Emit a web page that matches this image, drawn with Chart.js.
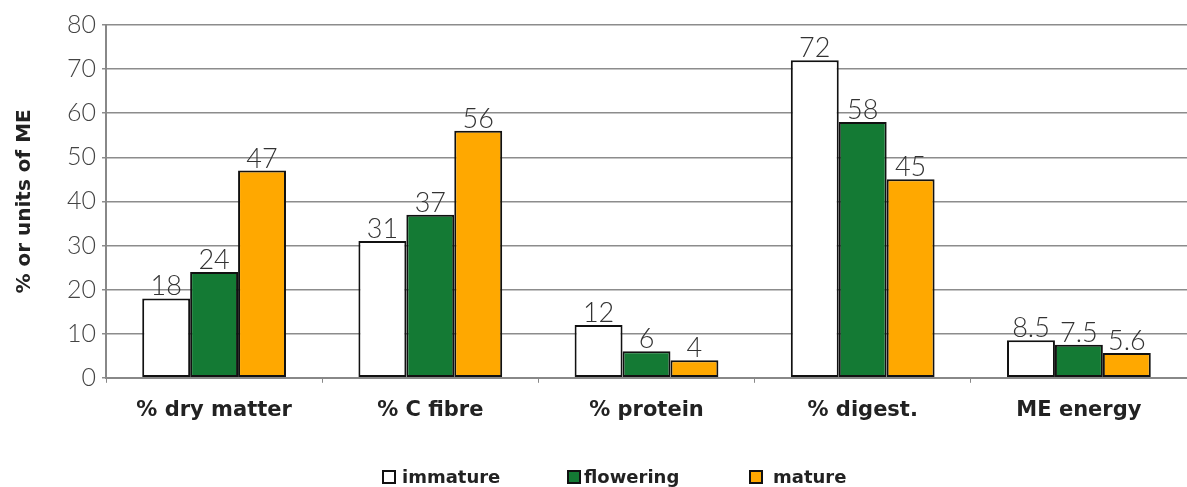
<!DOCTYPE html>
<html>
<head>
<meta charset="utf-8">
<script src="https://cdn.jsdelivr.net/npm/chart.js@4"></script>
<style>
  html, body { margin: 0; padding: 0; background: #fff; }
  #wrap { width: 1187px; height: 487px; }
</style>
</head>
<body>
<div id="wrap"><canvas id="forageChart" width="1187" height="487"></canvas></div>
<script>
// Forage quality by growth stage
const categories = ["% dry matter", "% C fibre", "% protein", "% digest.", "ME energy"];
const immature = [18, 31, 12, 72, 8.5];
const flowering = [24, 37, 6, 58, 7.5];
const mature = [47, 56, 4, 45, 5.6];
const yTicks = [0, 10, 20, 30, 40, 50, 60, 70, 80];

const NUM_FONT = "Lato, 'Open Sans', sans-serif";
const TXT_FONT = "'DejaVu Sans', 'Open Sans', sans-serif";

// draws the value above each bar
const valueLabels = {
  id: "valueLabels",
  afterDatasetsDraw(chart) {
    const ctx = chart.ctx;
    ctx.save();
    ctx.font = "300 27px " + NUM_FONT;
    ctx.fillStyle = "#333";
    ctx.textAlign = "center";
    ctx.textBaseline = "alphabetic";
    chart.data.datasets.forEach((ds, i) => {
      const meta = chart.getDatasetMeta(i);
      meta.data.forEach((bar, j) => {
        ctx.fillText(String(ds.data[j]), bar.x, bar.y - 3);
      });
    });
    ctx.restore();
  }
};

// legend row under the axis, spaced like the original
const bottomLegend = {
  id: "bottomLegend",
  afterDraw(chart) {
    const ctx = chart.ctx;
    const boxX = [383, 568, 750];
    const textGap = [19, 16, 23];
    const baseline = 483;
    ctx.save();
    ctx.font = "bold 18px " + TXT_FONT;
    ctx.textBaseline = "alphabetic";
    ctx.textAlign = "left";
    chart.data.datasets.forEach((ds, i) => {
      ctx.fillStyle = ds.backgroundColor;
      ctx.fillRect(boxX[i], baseline - 12, 12, 12);
      ctx.lineWidth = 2;
      ctx.strokeStyle = "#111";
      ctx.strokeRect(boxX[i], baseline - 12, 12, 12);
      ctx.fillStyle = "#222";
      ctx.fillText(ds.label, boxX[i] + textGap[i], baseline);
    });
    ctx.restore();
  }
};

const ctx = document.getElementById("forageChart").getContext("2d");
new Chart(ctx, {
  type: "bar",
  data: {
    labels: categories,
    datasets: [
      { label: "immature", data: immature, backgroundColor: "#ffffff", borderColor: "#111", borderWidth: 2, borderSkipped: false },
      { label: "flowering", data: flowering, backgroundColor: "#147a34", borderColor: "#111", borderWidth: 2, borderSkipped: false },
      { label: "mature", data: mature, backgroundColor: "#ffa800", borderColor: "#111", borderWidth: 2, borderSkipped: false }
    ]
  },
  options: {
    responsive: false,
    animation: false,
    layout: { padding: { top: 25, right: 0, left: 13, bottom: 49 } },
    datasets: { bar: { categoryPercentage: 0.665, barPercentage: 1.0 } },
    plugins: {
      tooltip: { enabled: false },
      legend: { display: false }
    },
    scales: {
      x: {
        grid: { display: true, drawOnChartArea: false, tickLength: 5, color: "#888", offset: true },
        border: { color: "#888", width: 2 },
        ticks: { font: { family: TXT_FONT, size: 21, weight: "bold" }, color: "#222", padding: 15 }
      },
      y: {
        min: 0,
        max: 80,
        afterBuildTicks(axis) { axis.ticks = yTicks.map(v => ({ value: v })); },
        grid: { color: "#8c8c8c", lineWidth: 1.5, tickLength: 4 },
        border: { color: "#888", width: 2 },
        ticks: { font: { family: NUM_FONT, size: 25, weight: "300" }, color: "#444", padding: 6 },
        title: {
          display: true,
          text: "% or units of ME",
          font: { family: TXT_FONT, size: 20, weight: "bold" },
          color: "#222",
          padding: { top: 0, bottom: 24 }
        }
      }
    }
  },
  plugins: [valueLabels, bottomLegend]
});
</script>
</body>
</html>
